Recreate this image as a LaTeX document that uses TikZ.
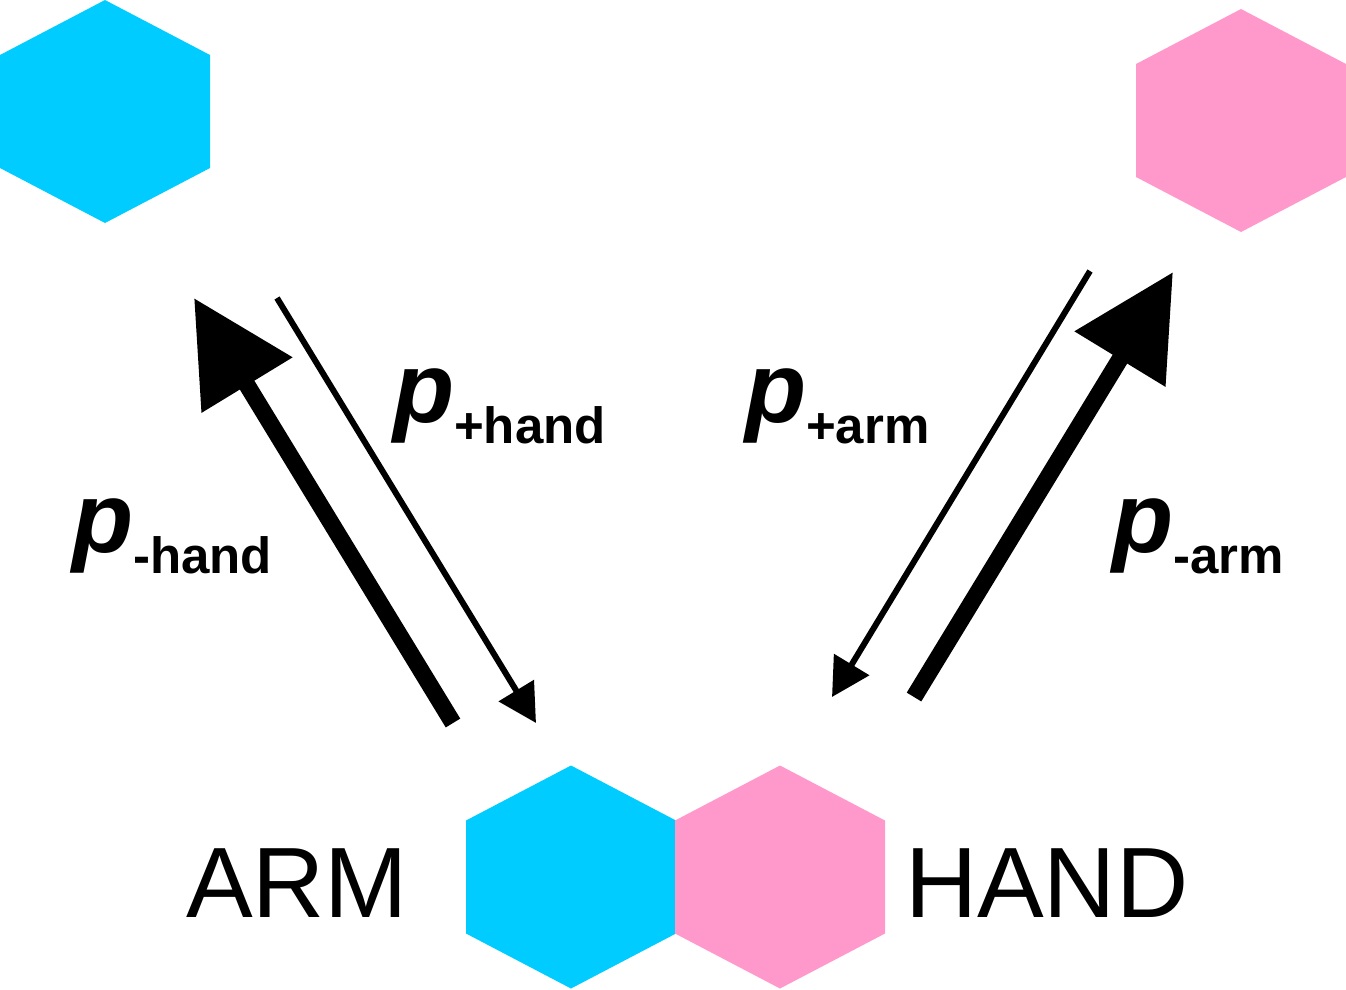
\documentclass[tikz,border=0pt]{standalone}
\usepackage{fontspec}
\setmainfont{Liberation Sans}
\usetikzlibrary{arrows.meta}
\definecolor{hexcyan}{HTML}{00CCFF}
\definecolor{hexpink}{HTML}{FF99CC}
\newcommand\plabel[1]{{\fontsize{100}{100}\selectfont\bfseries\itshape p}\raisebox{-21pt}{\fontsize{51}{51}\selectfont\bfseries #1}}
\begin{document}
\begin{tikzpicture}[x=1pt,y=-1pt,
  hexagon/.pic={\fill (0,-111.5) -- (105,-56.5) -- (105,56.5) -- (0,111.5) -- (-105,56.5) -- (-105,-56.5) -- cycle;},
  thickarrow/.style={line width=17pt, -{Triangle[length=102pt,width=102pt]}},
  thinarrow/.style={line width=6pt, -{Triangle[length=38pt,width=40pt]}},
  plab/.style={anchor=base west, inner sep=0pt, outer sep=0pt},
  bigword/.style={anchor=base west, inner sep=0pt, outer sep=0pt, font=\fontsize{100}{100}\selectfont}]
\useasboundingbox (0,0) rectangle (1346,989);
% hexagons
\coordinate (armTop) at (105,111.5);
\coordinate (handTop) at (1241,120.5);
\coordinate (armBot) at (571,877);
\coordinate (handBot) at (780,877);
\pic[fill=hexcyan] at (armTop) {hexagon};
\pic[fill=hexpink] at (handTop) {hexagon};
\pic[fill=hexcyan] at (armBot) {hexagon};
\pic[fill=hexpink] at (handBot) {hexagon};
% arrow end points
\coordinate (tlTail) at (453,723);
\coordinate (tlTip) at (194,298);
\coordinate (nlTail) at (277,298);
\coordinate (nlTip) at (536,723);
\coordinate (nrTail) at (1090,271);
\coordinate (nrTip) at (832,697);
\coordinate (trTail) at (914,697);
\coordinate (trTip) at (1173,272);
\draw[thickarrow] (tlTail) -- (tlTip);
\draw[thinarrow] (nlTail) -- (nlTip);
\draw[thinarrow] (nrTail) -- (nrTip);
\draw[thickarrow] (trTail) -- (trTip);
% labels
\node[plab] (pplushand) at (393,422) {\plabel{+hand}};
\node[plab] (pminushand) at (72,552) {\plabel{-hand}};
\node[plab] (pplusarm) at (745,422) {\plabel{+arm}};
\node[plab] (pminusarm) at (1112,552) {\plabel{-arm}};
\node[bigword] (armword) at (186,917) {ARM};
\node[bigword] (handword) at (905,917) {HAND};
\end{tikzpicture}
\end{document}
